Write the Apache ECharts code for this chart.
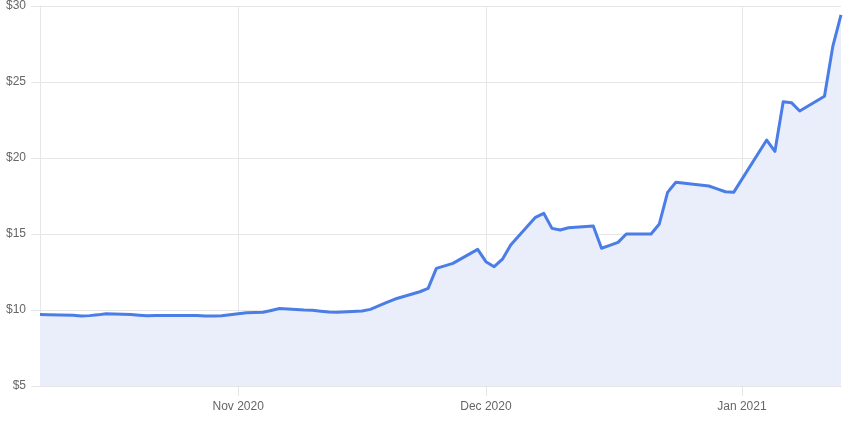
<!DOCTYPE html>
<html>
<head>
<meta charset="utf-8">
<script src="https://cdn.jsdelivr.net/npm/echarts@6/dist/echarts.min.js"></script>
<style>
  html, body { margin: 0; padding: 0; background: #fff; }
  #chart { width: 844px; height: 422px; }
</style>
</head>
<body>
<div id="chart"></div>
<script>
const dates = [
  '2020-10-08','2020-10-09','2020-10-12','2020-10-13','2020-10-14','2020-10-15','2020-10-16',
  '2020-10-19','2020-10-20','2020-10-21','2020-10-22','2020-10-23',
  '2020-10-26','2020-10-27','2020-10-28','2020-10-29','2020-10-30',
  '2020-11-02','2020-11-03','2020-11-04','2020-11-05','2020-11-06',
  '2020-11-09','2020-11-10','2020-11-11','2020-11-12','2020-11-13',
  '2020-11-16','2020-11-17','2020-11-18','2020-11-19','2020-11-20',
  '2020-11-23','2020-11-24','2020-11-25','2020-11-27',
  '2020-11-30','2020-12-01','2020-12-02','2020-12-03','2020-12-04',
  '2020-12-07','2020-12-08','2020-12-09','2020-12-10','2020-12-11',
  '2020-12-14','2020-12-15','2020-12-16','2020-12-17','2020-12-18',
  '2020-12-21','2020-12-22','2020-12-23','2020-12-24',
  '2020-12-28','2020-12-29','2020-12-30','2020-12-31',
  '2021-01-04','2021-01-05','2021-01-06','2021-01-07','2021-01-08',
  '2021-01-11','2021-01-12','2021-01-13'
];
const prices = [
  9.70, 9.68, 9.65, 9.61, 9.63, 9.68, 9.75,
  9.70, 9.66, 9.62, 9.63, 9.63,
  9.63, 9.64, 9.61, 9.61, 9.62,
  9.82, 9.84, 9.85, 9.97, 10.10,
  10.00, 9.98, 9.92, 9.87, 9.85,
  9.94, 10.04, 10.27, 10.50, 10.72,
  11.20, 11.42, 12.74, 13.07,
  13.99, 13.18, 12.85, 13.34, 14.28,
  16.10, 16.36, 15.37, 15.26, 15.41,
  15.53, 14.06, 14.25, 14.45, 15.00,
  15.00, 15.66, 17.74, 18.40,
  18.16, 17.97, 17.78, 17.74,
  21.18, 20.44, 23.70, 23.64, 23.09,
  24.06, 27.32, 29.41
];
const monthTicks = ['2020-11-01', '2020-12-01', '2021-01-01'];
const monthTickLabels = ['Nov 2020', 'Dec 2020', 'Jan 2021'];
const yTicks = [5, 10, 15, 20, 25, 30];

const ts = d => +new Date(d + 'T00:00:00');
const tickVals = monthTicks.map(ts);
const labelFor = {};
tickVals.forEach((t, i) => { labelFor[t] = monthTickLabels[i]; });

const chart = echarts.init(document.getElementById('chart'), null, { renderer: 'canvas' });
chart.setOption({
  animation: false,
  textStyle: { fontFamily: 'Liberation Sans, Arial, sans-serif' },
  grid: { left: 40, right: 3, top: 6, bottom: 36, containLabel: false },
  xAxis: {
    type: 'value',
    min: ts(dates[0]),
    max: ts(dates[dates.length - 1]),
    axisLine: { show: true, lineStyle: { color: '#e6e6e6', width: 1 } },
    axisTick: { show: true, length: 10, lineStyle: { color: '#e6e6e6' }, customValues: tickVals },
    axisLabel: {
      customValues: tickVals,
      color: '#666',
      fontSize: 12,
      margin: 15,
      formatter: v => labelFor[v] || ''
    },
    splitLine: { show: true, lineStyle: { color: '#e6e6e6', width: 1 } }
  },
  yAxis: {
    type: 'value',
    min: yTicks[0],
    max: yTicks[yTicks.length - 1],
    interval: 5,
    axisLine: { show: true, lineStyle: { color: '#e6e6e6' } },
    axisTick: { show: true, length: 9, lineStyle: { color: '#e6e6e6' } },
    axisLabel: { color: '#666', fontSize: 12, margin: 14, formatter: v => '$' + v },
    splitLine: { show: true, lineStyle: { color: '#e6e6e6', width: 1 } }
  },
  series: [{
    type: 'line',
    data: dates.map((d, i) => [ts(d), prices[i]]),
    showSymbol: false,
    symbol: 'none',
    lineStyle: { color: '#4a7ee6', width: 3, join: 'round' },
    itemStyle: { color: '#4a7ee6' },
    areaStyle: { color: '#e9eefa', opacity: 1 }
  }]
});
</script>
</body>
</html>
